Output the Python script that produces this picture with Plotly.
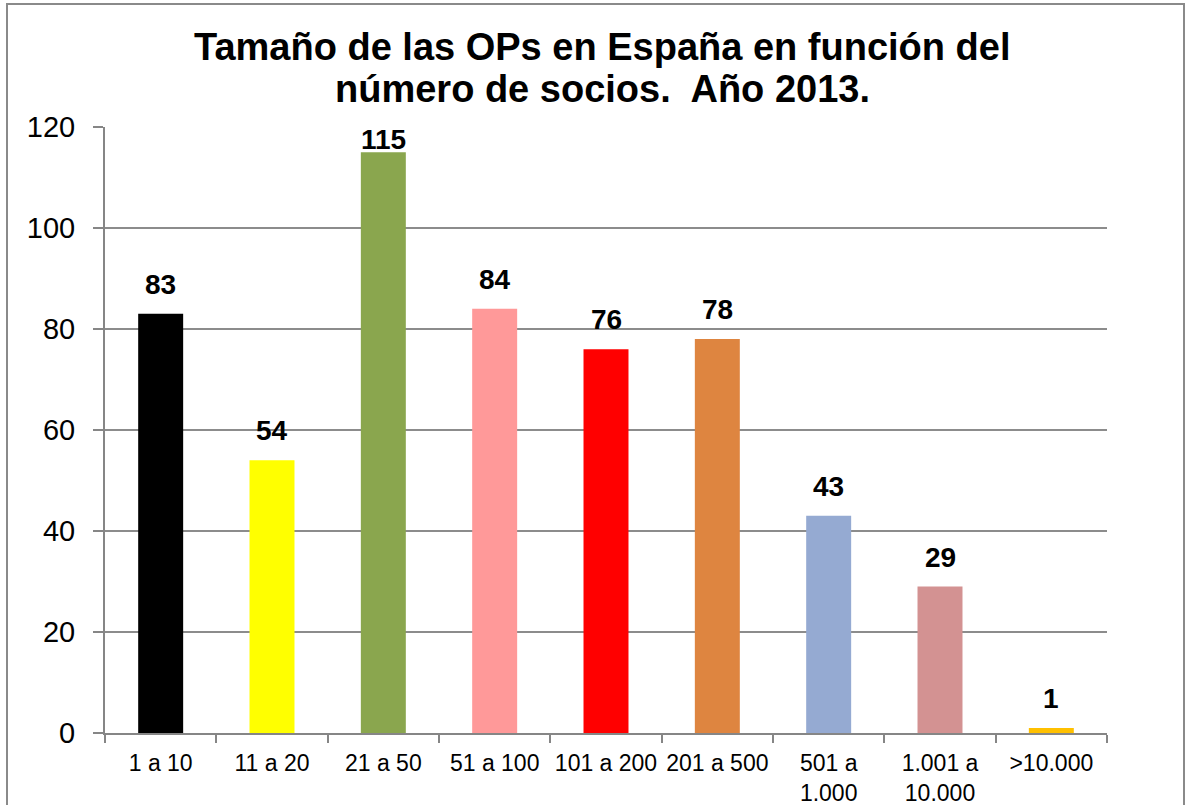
import plotly.graph_objects as go

categories = ["1 a 10", "11 a 20", "21 a 50", "51 a 100", "101 a 200", "201 a 500",
              "501 a<br>1.000", "1.001 a<br>10.000", ">10.000"]
values = [83, 54, 115, 84, 76, 78, 43, 29, 1]
bar_colors = ["#000000", "#FFFF00", "#8AA64E", "#FF9999", "#FF0000", "#DE8540",
              "#95AAD2", "#D39292", "#FFC000"]
y_ticks = [0, 20, 40, 60, 80, 100, 120]
title_lines = ["Tamaño de las OPs en España en función del",
               "número de socios.  Año 2013."]

W, H = 1186, 805
ml, mr, mt, mb = 105, 79, 127, 72
plot_w = W - ml - mr
plot_h = H - mt - mb
y_max = 120
FONT = "Liberation Sans, Arial"


def py(px):
    """page pixel row -> paper y"""
    return (H - mb - px) / plot_h


def pxx(px):
    return (px - ml) / plot_w


fig = go.Figure()
fig.add_trace(go.Bar(
    x=categories, y=values, marker=dict(color=bar_colors, line=dict(width=0)),
    hoverinfo="x+y",
))

# data labels above the bars, pushed down if they would leave the plot area
for c, v in zip(categories, values):
    space = plot_h * (y_max - v) / y_max
    shift = min(12, space - 30)
    fig.add_annotation(x=c, y=v, text=f"<b>{v}</b>", showarrow=False,
                       yanchor="bottom", yshift=shift,
                       font=dict(family=FONT, size=28, color="black"))

# title (two lines)
for line, base in zip(title_lines, [61, 103]):
    fig.add_annotation(xref="paper", yref="paper", x=pxx(602), y=py(base + 9),
                       xanchor="center", yanchor="bottom", showarrow=False,
                       text=f"<b>{line}</b>",
                       font=dict(family=FONT, size=38, color="black"))

# outer chart border
fig.add_shape(type="rect", xref="paper", yref="paper",
              x0=pxx(7), x1=pxx(1184), y0=py(815), y1=py(4),
              line=dict(color="#8A8A8A", width=2), fillcolor="rgba(0,0,0,0)", layer="below")

fig.update_layout(
    width=W, height=H,
    margin=dict(l=ml, r=mr, t=mt, b=mb, autoexpand=False),
    paper_bgcolor="white", plot_bgcolor="white",
    bargap=0.596, showlegend=False,
    font=dict(family=FONT, color="black"),
)
fig.update_xaxes(
    type="category", showline=True, linecolor="#868686", linewidth=2,
    ticks="outside", tickson="boundaries", ticklen=8, tickcolor="#868686", tickwidth=2,
    tickfont=dict(size=23, color="black"), ticklabelstandoff=8, tickangle=0,
    showgrid=False,
)
fig.update_yaxes(
    range=[0, y_max], tickvals=y_ticks, showline=True, linecolor="#868686", linewidth=2,
    ticks="outside", ticklen=10, tickcolor="#868686", tickwidth=2,
    tickfont=dict(size=29, color="black"), ticklabelstandoff=12,
    showgrid=True, gridcolor="#8C8C8C", gridwidth=1.5, zeroline=False,
)

fig.write_html("out.html", config={"displayModeBar": False},
               post_script="document.body.style.margin='0';")
